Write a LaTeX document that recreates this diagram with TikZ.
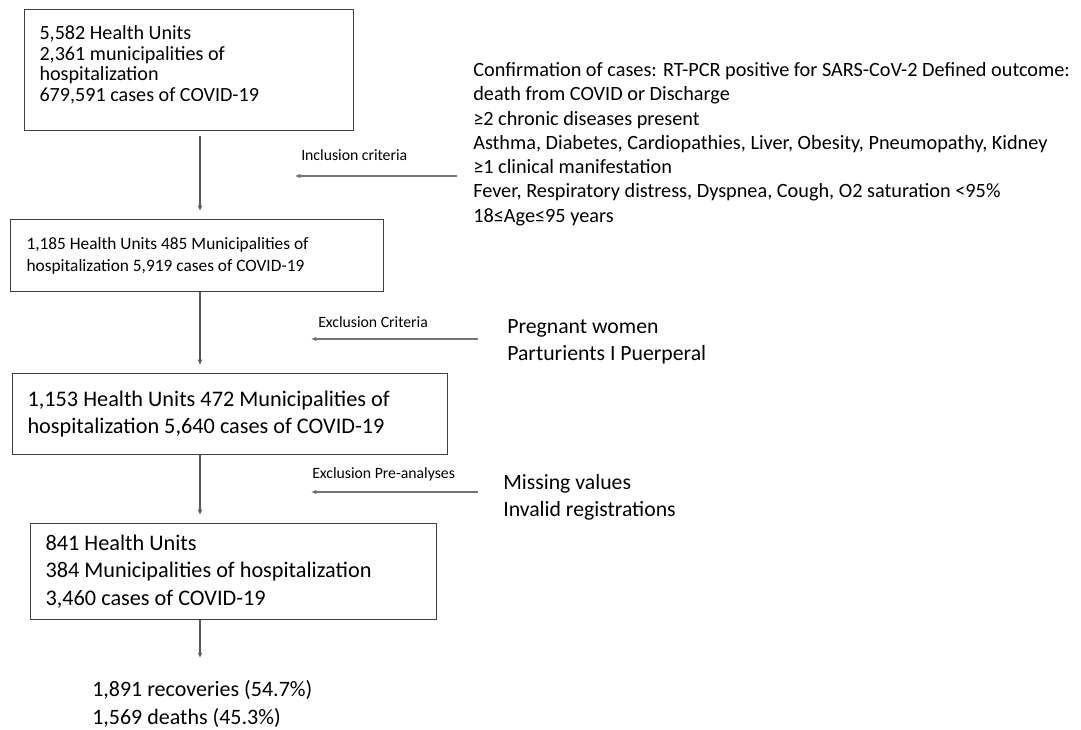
\documentclass[tikz,border=0pt]{standalone}
\usepackage{fontspec}
\setmainfont{Carlito}
\usepackage{tikz}
\usetikzlibrary{positioning,arrows.meta,calc}

\tikzset{
  box/.style={draw=black!75, line width=0.8pt, align=flush left, anchor=north west,
    inner xsep=11.25pt, inner ysep=0pt},
  flow/.style={draw=black!65, line width=0.8pt, shorten >=6pt,
    -{Latex[length=4pt,width=3.5pt]}},
  side/.style={draw=black!55, line width=0.8pt,
    -{Latex[length=4pt,width=3.5pt]}},
  tag/.style={anchor=west, inner sep=0pt, font=\fontsize{11.8pt}{14pt}\selectfont},
  note/.style={anchor=west, inner sep=0pt, align=left,
    font=\fontsize{16.3pt}{20.2pt}\selectfont}
}

\begin{document}
\begin{tikzpicture}[x=0.75pt,y=-0.75pt]
  \useasboundingbox (0,0) rectangle (1081,730);
  \coordinate (col) at (200,0);

  % boxes of the flow
  \node[box, font=\fontsize{15.1pt}{15.5pt}\selectfont, text width=224.25pt,
    minimum height=90.75pt] (units) at (24,9)
    {5,582 Health Units\\2,361 municipalities of\\hospitalization\\679,591 cases of COVID-19\rule[-10pt]{0pt}{0pt}};
  \node[box, font=\fontsize{13pt}{16.5pt}\selectfont, inner xsep=12pt, text width=255.75pt,
    minimum height=54pt] (incl) at (10,219)
    {1,185 Health Units 485 Municipalities of\\hospitalization 5,919 cases of COVID-19};
  \node[box, font=\fontsize{16.7pt}{20.3pt}\selectfont, text width=303.75pt,
    minimum height=60.75pt] (excl) at (12,373)
    {1,153 Health Units 472 Municipalities of\\hospitalization 5,640 cases of COVID-19};
  \node[box, font=\fontsize{16.7pt}{20.6pt}\selectfont, text width=282pt,
    minimum height=72pt] (final) at (30,523)
    {841 Health Units\\384 Municipalities of hospitalization\\3,460 cases of COVID-19};
  \node[note, font=\fontsize{16.5pt}{21pt}\selectfont] (outcome) at (92,704)
    {1,891 recoveries (54.7\%)\\1,569 deaths (45.3\%)};

  % vertical connectors
  \draw[flow] ($(units.south -| col)+(0,5)$) -- (incl.north -| col);
  \draw[flow] (incl.south -| col) -- (excl.north -| col);
  \draw[flow] (excl.south -| col) -- (final.north -| col);
  \draw[flow] (final.south -| col) -- ($(outcome.north -| col)+(0,-14)$);

  % criteria on the right
  \node[note, font=\fontsize{15.2pt}{18.2pt}\selectfont] (crit) at (473,144)
    {Confirmation of cases: RT-PCR positive for SARS-CoV-2 Defined outcome:\\
     death from COVID or Discharge\\
     ≥2 chronic diseases present\\
     Asthma, Diabetes, Cardiopathies, Liver, Obesity, Pneumopathy, Kidney\\
     ≥1 clinical manifestation\\
     Fever, Respiratory distress, Dyspnea, Cough, O2 saturation <95\%\\
     18≤Age≤95 years};
  \node[note] (preg) at (507,341.5) {Pregnant women\\Parturients I Puerperal};
  \node[note] (miss) at (503,497) {Missing values\\Invalid registrations};

  % side arrows
  \coordinate (inc-a) at (457,176);
  \coordinate (inc-b) at (295,176);
  \coordinate (exc-a) at (478,339);
  \coordinate (exc-b) at (311,339);
  \coordinate (pre-a) at (478,492);
  \coordinate (pre-b) at (311,492);
  \draw[side] (inc-a) -- (inc-b);
  \draw[side] (exc-a) -- (exc-b);
  \draw[side] (pre-a) -- (pre-b);
  \node[tag] (inc-t) at (301,155) {Inclusion criteria};
  \node[tag] (exc-t) at (318,322) {Exclusion Criteria};
  \node[tag] (pre-t) at (312,474) {Exclusion Pre-analyses};
\end{tikzpicture}
\end{document}
